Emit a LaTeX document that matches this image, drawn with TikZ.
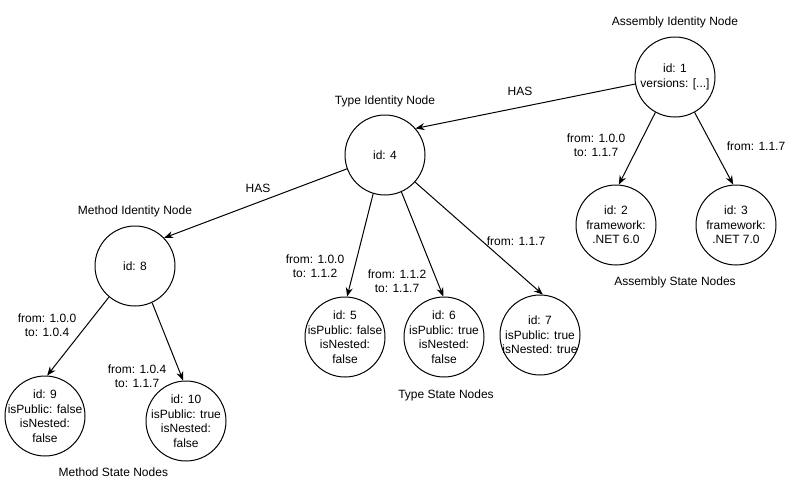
\documentclass[tikz,border=0pt]{standalone}
\usepackage{fontspec}
\setmainfont{Liberation Sans}
\usetikzlibrary{arrows.meta}

\begin{document}
\begin{tikzpicture}[x=1pt,y=-1pt]
    \tikzstyle{txt}=[align=center, inner sep=0pt, font=\fontsize{12}{14.5}\selectfont]
    \tikzstyle{state}=[circle, draw, line width=1pt, minimum size=80pt, inner sep=0pt]
    \tikzstyle{edge}=[line width=1pt, -{Stealth[length=9pt,width=7pt]}]
    \useasboundingbox (0,0) rectangle (801,491);
    % circles
    \foreach \n/\x/\y/\lbl in { a1/675/77/{id: 1\\versions: [...]},
    a2/616/225/{id: 2\\framework:\\.NET 6.0}, a3/736/225/{id: 3\\framework:\\.NET 7.0},
    t4/385/155/{id: 4}, t5/345/337/{id: 5\\isPublic: false\\isNested:\\false},
    t6/444/337/{id: 6\\isPublic: true\\isNested:\\false},
    t7/540/335/{id: 7\\isPublic: true\\isNested: true},
    m8/135/266/{id: 8}, m9/45/416/{id: 9\\isPublic: false\\isNested:\\false},
    m10/186/421/{id: 10\\isPublic: true\\isNested:\\false} } {
        \edef\mk{\noexpand\node[state, label={[txt]center:\unexpanded\expandafter{\lbl}}] (\n) at (\x,\y) {};}
        \mk
    }
    % group titles
    \foreach \n/\x/\y/\lbl in { asmid/675/22/Assembly Identity Node,
    asmst/675/282/Assembly State Nodes, typid/385/101/Type Identity Node,
    typst/446/395/Type State Nodes, metid/135/211/Method Identity Node,
    metst/115/472/Method State Nodes }
        \node[txt] (\n) at (\x,\y) {\lbl};
    % edge labels
    \node[txt] (has1) at (520,91) {HAS};
    \node[txt] (has2) at (258,188) {HAS};
    \node[txt] (v12) at (596,145) {from: 1.0.0\\to: 1.1.7};
    \node[txt] (v13) at (756,146) {from: 1.1.7};
    \node[txt] (v45) at (315,266) {from: 1.0.0\\to: 1.1.2};
    \node[txt] (v46) at (397,281) {from: 1.1.2\\to: 1.1.7};
    \node[txt] (v47) at (516,241) {from: 1.1.7};
    \node[txt] (v89) at (47,325) {from: 1.0.0\\to: 1.0.4};
    \node[txt] (v810) at (137,376) {from: 1.0.4\\to: 1.1.7};
    % connectors
    \foreach \a/\b in { a1.190/t4.41, t4.200/m8.44, a1.241/a2.86, a1.299/a3.94,
    t4.253/t5.87, t4.294/t6.91, t4.318/t7.86, m8.230/m9.87, m8.295/m10.94 }
        \draw[edge] (\a) -- (\b);
\end{tikzpicture}
\end{document}
